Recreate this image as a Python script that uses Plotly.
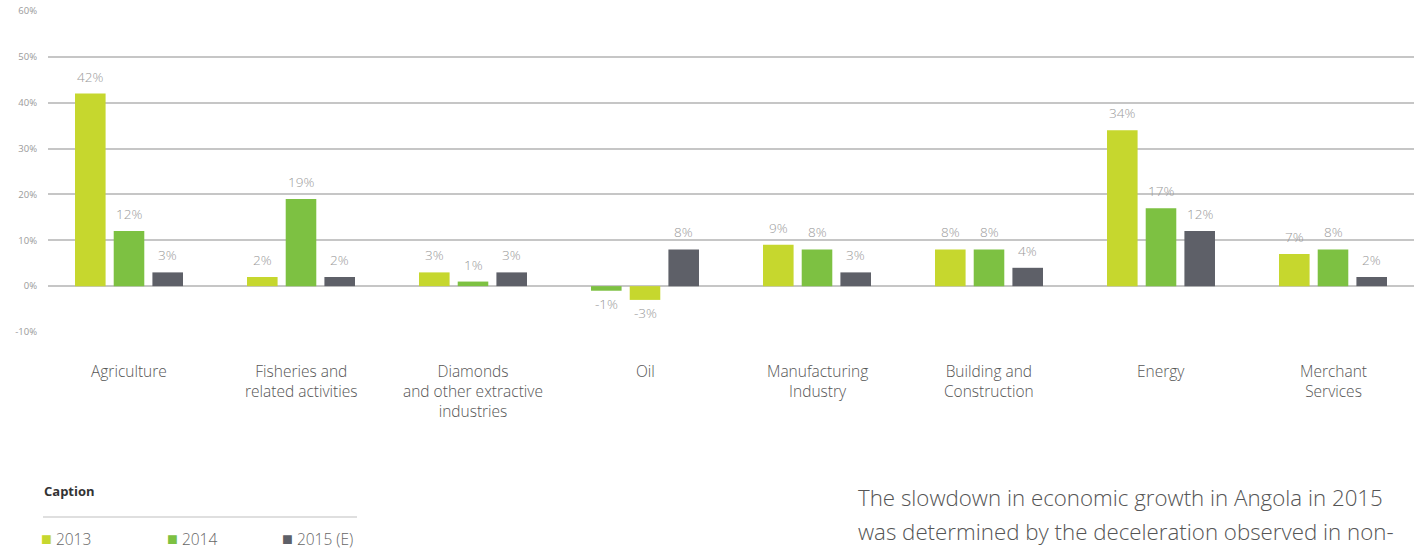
import plotly.graph_objects as go

# Sector growth in Angola, 2013–2015 (estimate)
sectors = [
    "Agriculture",
    "Fisheries and<br>related activities",
    "Diamonds<br>and other extractive<br>industries",
    "Oil",
    "Manufacturing<br>Industry",
    "Building and<br>Construction",
    "Energy",
    "Merchant<br>Services",
]
growth_2013 = [42, 2, 3, -1, 9, 8, 34, 7]
growth_2014 = [12, 19, 1, -3, 8, 8, 17, 8]
growth_2015 = [3, 2, 3, 8, 3, 4, 12, 2]

series_names = ["2013", "2014", "2015 (E)"]
LIME = "#c6d72e"
GREEN = "#7dc142"
GREY = "#5e6068"
# the Oil group swaps the two green tones
colors_2013 = [GREEN if s == "Oil" else LIME for s in sectors]
colors_2014 = [LIME if s == "Oil" else GREEN for s in sectors]
colors_2015 = [GREY for _ in sectors]

y_ticks = [-10, 0, 10, 20, 30, 40, 50, 60]

FONT = "Open Sans"
BARGAP = 0.325
idx = list(range(len(sectors)))
slot = (1 - BARGAP) / 3  # category units per bar slot within a group

fig = go.Figure()
all_series = [
    (series_names[0], growth_2013, colors_2013),
    (series_names[1], growth_2014, colors_2014),
    (series_names[2], growth_2015, colors_2015),
]
for k, (name, vals, cols) in enumerate(all_series):
    fig.add_trace(go.Bar(
        x=idx, y=vals, name=name,
        marker=dict(color=cols, line=dict(width=0)),
        showlegend=False,
    ))
    # value labels just above (or below) each bar
    for i, v in zip(idx, vals):
        fig.add_annotation(
            x=i + (k - 1) * slot, y=v, xref="x", yref="y",
            text=f"{v}%", showarrow=False, xanchor="center",
            yanchor="bottom" if v >= 0 else "top",
            yshift=6 if v >= 0 else -2,
            font=dict(family=FONT, size=13.5, color="#9a9a9a", weight=300),
        )

# sector names under the plot
for i, s in enumerate(sectors):
    fig.add_annotation(
        x=i, y=-0.082, xref="x", yref="paper", text=s,
        showarrow=False, yanchor="top", xanchor="center", align="center",
        font=dict(family=FONT, size=15.5, color="#555555", weight=300),
    )

# caption block
fig.add_annotation(
    x=42, y=491, xref="paper", yref="paper", text="<b>Caption</b>",
    showarrow=False, xanchor="left", yanchor="middle",
    font=dict(family=FONT, size=13, color="#333333"),
)

legend_x = [39, 165, 280]
for name, col, lx in zip(series_names, [LIME, GREEN, GREY], legend_x):
    fig.add_annotation(
        x=lx, y=538, xref="paper", yref="paper",
        text=f"<span style='color:{col};font-size:18px'>■</span> {name}",
        showarrow=False, xanchor="left", yanchor="middle",
        font=dict(family=FONT, size=15.5, color="#666666", weight=300),
    )

fig.add_annotation(
    x=856, y=497, xref="paper", yref="paper",
    text="The slowdown in economic growth in Angola in 2015",
    showarrow=False, xanchor="left", yanchor="middle",
    font=dict(family=FONT, size=22.3, color="#555555", weight=300),
)
fig.add_annotation(
    x=856, y=531, xref="paper", yref="paper",
    text="was determined by the deceleration observed in non-",
    showarrow=False, xanchor="left", yanchor="middle",
    font=dict(family=FONT, size=22.3, color="#555555", weight=300),
)

# convert pixel-positioned annotations/shapes to paper coordinates
W, H = 1414, 551
L, R, T, B = 48, 0, 11, 219
pw, ph = W - L - R, H - T - B
for ann in fig.layout.annotations:
    if ann.xref == "paper" and ann.yref == "paper" and ann.x > 1:
        ann.x = (ann.x - L) / pw
        ann.y = (H - B - ann.y) / ph

fig.add_shape(
    type="line", xref="paper", yref="paper",
    x0=(43 - L) / pw, x1=(357 - L) / pw,
    y0=(H - B - 517) / ph, y1=(H - B - 517) / ph,
    line=dict(color="#bfbfbf", width=1.2),
)

x0 = -0.5 + 5 / 172
fig.update_layout(
    width=W, height=H,
    margin=dict(l=L, r=R, t=T, b=B),
    paper_bgcolor="white", plot_bgcolor="white",
    barmode="group", bargap=BARGAP, bargroupgap=0.21,
    showlegend=False,
    xaxis=dict(
        range=[x0, x0 + pw / 172],
        showticklabels=False, showgrid=False, zeroline=False,
        fixedrange=True,
    ),
    yaxis=dict(
        range=[-10, 60], tickvals=y_ticks,
        ticktext=[f"{v}%" for v in y_ticks],
        tickfont=dict(family=FONT, size=9.5, color="#9a9a9a"),
        showgrid=True, gridcolor="#c6c6c6", gridwidth=1.5,
        zeroline=True, zerolinecolor="#c6c6c6", zerolinewidth=1.5,
        ticks="", ticklabelstandoff=10,
    ),
)

fig.write_html("out.html")
